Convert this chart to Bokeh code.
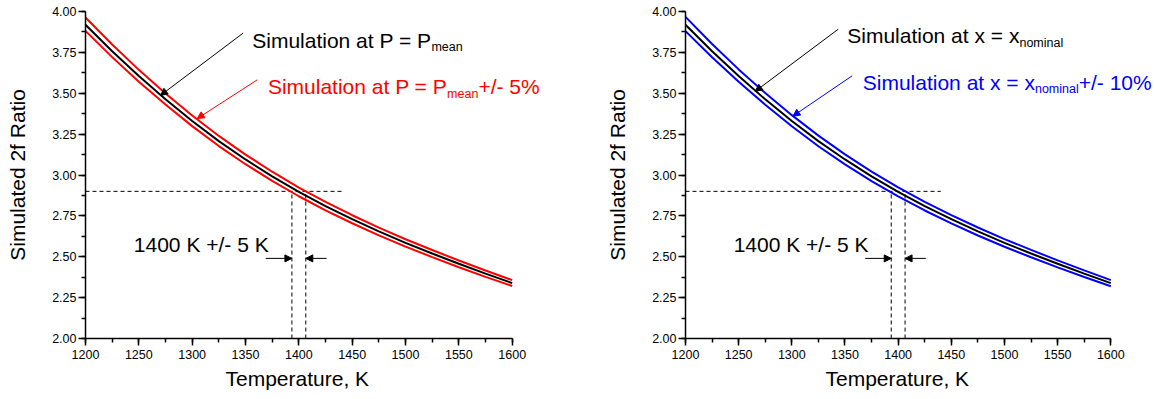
from bokeh.plotting import figure
from bokeh.layouts import row
from bokeh.models import (Range1d, SingleIntervalTicker, NumeralTickFormatter,
                          Label, Arrow, NormalHead, Title)
from bokeh.embed import file_html
from bokeh.resources import INLINE

# ---------------- data ----------------
temperature = [1200, 1225, 1250, 1275, 1300, 1325, 1350, 1375, 1400,
               1425, 1450, 1475, 1500, 1525, 1550, 1575, 1600]

ratio_nominal = [3.919, 3.757, 3.605, 3.463, 3.330, 3.207, 3.095, 2.992, 2.897,
                 2.810, 2.730, 2.655, 2.585, 2.520, 2.457, 2.397, 2.339]

ratio_p_plus = [3.963, 3.798, 3.643, 3.499, 3.364, 3.239, 3.125, 3.020, 2.923,
                2.835, 2.754, 2.678, 2.607, 2.541, 2.477, 2.416, 2.357]
ratio_p_minus = [3.881, 3.721, 3.571, 3.431, 3.299, 3.177, 3.066, 2.964, 2.870,
                 2.784, 2.705, 2.631, 2.562, 2.498, 2.436, 2.377, 2.321]

ratio_x_plus = [3.967, 3.801, 3.646, 3.501, 3.366, 3.241, 3.126, 3.021, 2.924,
                2.836, 2.755, 2.679, 2.608, 2.542, 2.478, 2.417, 2.357]
ratio_x_minus = [3.880, 3.720, 3.570, 3.430, 3.298, 3.176, 3.065, 2.963, 2.869,
                 2.783, 2.704, 2.630, 2.561, 2.497, 2.435, 2.376, 2.320]

axis_bounds = (1200, 1600)
y_range = (2.0, 4.0)

ref_ratio = 2.90
ref_t_end = 1440
ref_t_low = 1393.5
ref_t_high = 1406.5
arrow_level = 2.49
arrow_left_start = 1369
arrow_right_start = 1426

FONT = "Liberation Sans"


def make_panel(width, x_end, title_shift, upper, lower, color, var, sub, pct,
               black_lbl, col_lbl, black_arrow, col_arrow):
    # frame extends a bit beyond 1600 so that the annotation texts are not clipped;
    # the axis itself is bounded to 1200..1600
    p = figure(width=width, height=399, output_backend="svg", toolbar_location=None,
               x_range=Range1d(axis_bounds[0], x_end), y_range=Range1d(*y_range),
               min_border_left=85, min_border_right=2,
               min_border_top=11, min_border_bottom=61)
    p.outline_line_color = None
    p.xgrid.visible = False
    p.ygrid.visible = False
    p.background_fill_color = "white"
    p.border_fill_color = "white"

    p.xaxis.ticker = SingleIntervalTicker(interval=50, num_minor_ticks=2)
    p.xaxis.bounds = axis_bounds
    p.yaxis.ticker = SingleIntervalTicker(interval=0.25, num_minor_ticks=2)
    p.yaxis.formatter = NumeralTickFormatter(format="0.00")
    for ax in (p.xaxis[0], p.yaxis[0]):
        ax.axis_line_color = "black"
        ax.axis_line_width = 1.5
        ax.major_tick_line_color = "black"
        ax.major_tick_line_width = 1.5
        ax.minor_tick_line_color = "black"
        ax.minor_tick_line_width = 1.5
        ax.major_tick_in = 0
        ax.major_tick_out = 7
        ax.minor_tick_in = 0
        ax.minor_tick_out = 4
        ax.major_label_text_font = FONT
        ax.major_label_text_font_size = "12.5px"
        ax.major_label_text_color = "black"
        ax.axis_label_text_font = FONT
        ax.axis_label_text_font_size = "21px"
        ax.axis_label_text_font_style = "normal"
        ax.axis_label_text_color = "black"
    p.yaxis.axis_label = "Simulated 2f Ratio"
    p.xaxis.major_label_standoff = 4
    p.yaxis.major_label_standoff = 2
    p.yaxis.axis_label_standoff = 20

    # x-axis title, centred under the 1200..1600 span
    p.add_layout(Title(text="Temperature, K", align="left", offset=title_shift,
                       text_font=FONT, text_font_size="21px", text_font_style="normal",
                       text_color="black", standoff=6), "below")

    # reference dashed lines
    p.line([axis_bounds[0], ref_t_end], [ref_ratio, ref_ratio], line_color="black",
           line_width=1, line_dash="4 3")
    p.line([ref_t_low, ref_t_low], [y_range[0], ref_ratio], line_color="black",
           line_width=1, line_dash="4 3")
    p.line([ref_t_high, ref_t_high], [y_range[0], ref_ratio], line_color="black",
           line_width=1, line_dash="4 3")

    # curves
    p.line(temperature, upper, line_color=color, line_width=2)
    p.line(temperature, lower, line_color=color, line_width=2)
    p.line(temperature, ratio_nominal, line_color="black", line_width=2)

    # bottom arrows
    for xs, xe in ((arrow_left_start, ref_t_low), (arrow_right_start, ref_t_high)):
        p.add_layout(Arrow(end=NormalHead(size=7, line_color="black", fill_color="black"),
                           x_start=xs, y_start=arrow_level, x_end=xe, y_end=arrow_level,
                           line_color="black", line_width=1))

    # pointer arrows
    for (xs, ys, xe, ye), c in ((black_arrow, "black"), (col_arrow, color)):
        p.add_layout(Arrow(end=NormalHead(size=7, line_color=c, fill_color=c),
                           x_start=xs, y_start=ys, x_end=xe, y_end=ye,
                           line_color=c, line_width=1))

    sub_w = {"mean": 31.3, "nominal": 43.8}[sub]
    main_w = 179.2 if var == "P" else 172.2
    main = f"Simulation at {var} = {var}"

    bx, by = black_lbl
    p.add_layout(Label(x=bx, y=by, text=main, text_font=FONT, text_font_size="21px",
                       text_color="black", text_baseline="alphabetic"))
    p.add_layout(Label(x=bx, y=by, text=sub, text_font=FONT, text_font_size="12.5px",
                       text_color="black", text_baseline="alphabetic",
                       x_offset=main_w, y_offset=-7))
    cx, cy = col_lbl
    p.add_layout(Label(x=cx, y=cy, text=main, text_font=FONT, text_font_size="21px",
                       text_color=color, text_baseline="alphabetic"))
    p.add_layout(Label(x=cx, y=cy, text=sub, text_font=FONT, text_font_size="12.5px",
                       text_color=color, text_baseline="alphabetic",
                       x_offset=main_w, y_offset=-7))
    p.add_layout(Label(x=cx, y=cy, text=pct, text_font=FONT, text_font_size="21px",
                       text_color=color, text_baseline="alphabetic",
                       x_offset=main_w + sub_w))

    p.add_layout(Label(x=1245.3, y=2.573, text="1400 K +/- 5 K", text_font=FONT,
                       text_font_size="21px", text_color="black",
                       text_baseline="alphabetic"))
    return p


left = make_panel(600, 1680.9, 140, ratio_p_plus, ratio_p_minus, "#ff0000", "P", "mean",
                  "+/- 5%", (1356.3, 3.825), (1371.0, 3.539),
                  (1347.8, 3.868, 1270.3, 3.487), (1361.0, 3.582, 1304.7, 3.345))
right = make_panel(554, 1639.2, 140, ratio_x_plus, ratio_x_minus, "#0000ff", "x", "nominal",
                   "+/- 10%", (1352.1, 3.851), (1366.7, 3.566),
                   (1343.7, 3.892, 1265.6, 3.512), (1356.8, 3.607, 1301.0, 3.360))

layout = row(left, right)
open("out.html", "w").write(file_html(layout, INLINE))
